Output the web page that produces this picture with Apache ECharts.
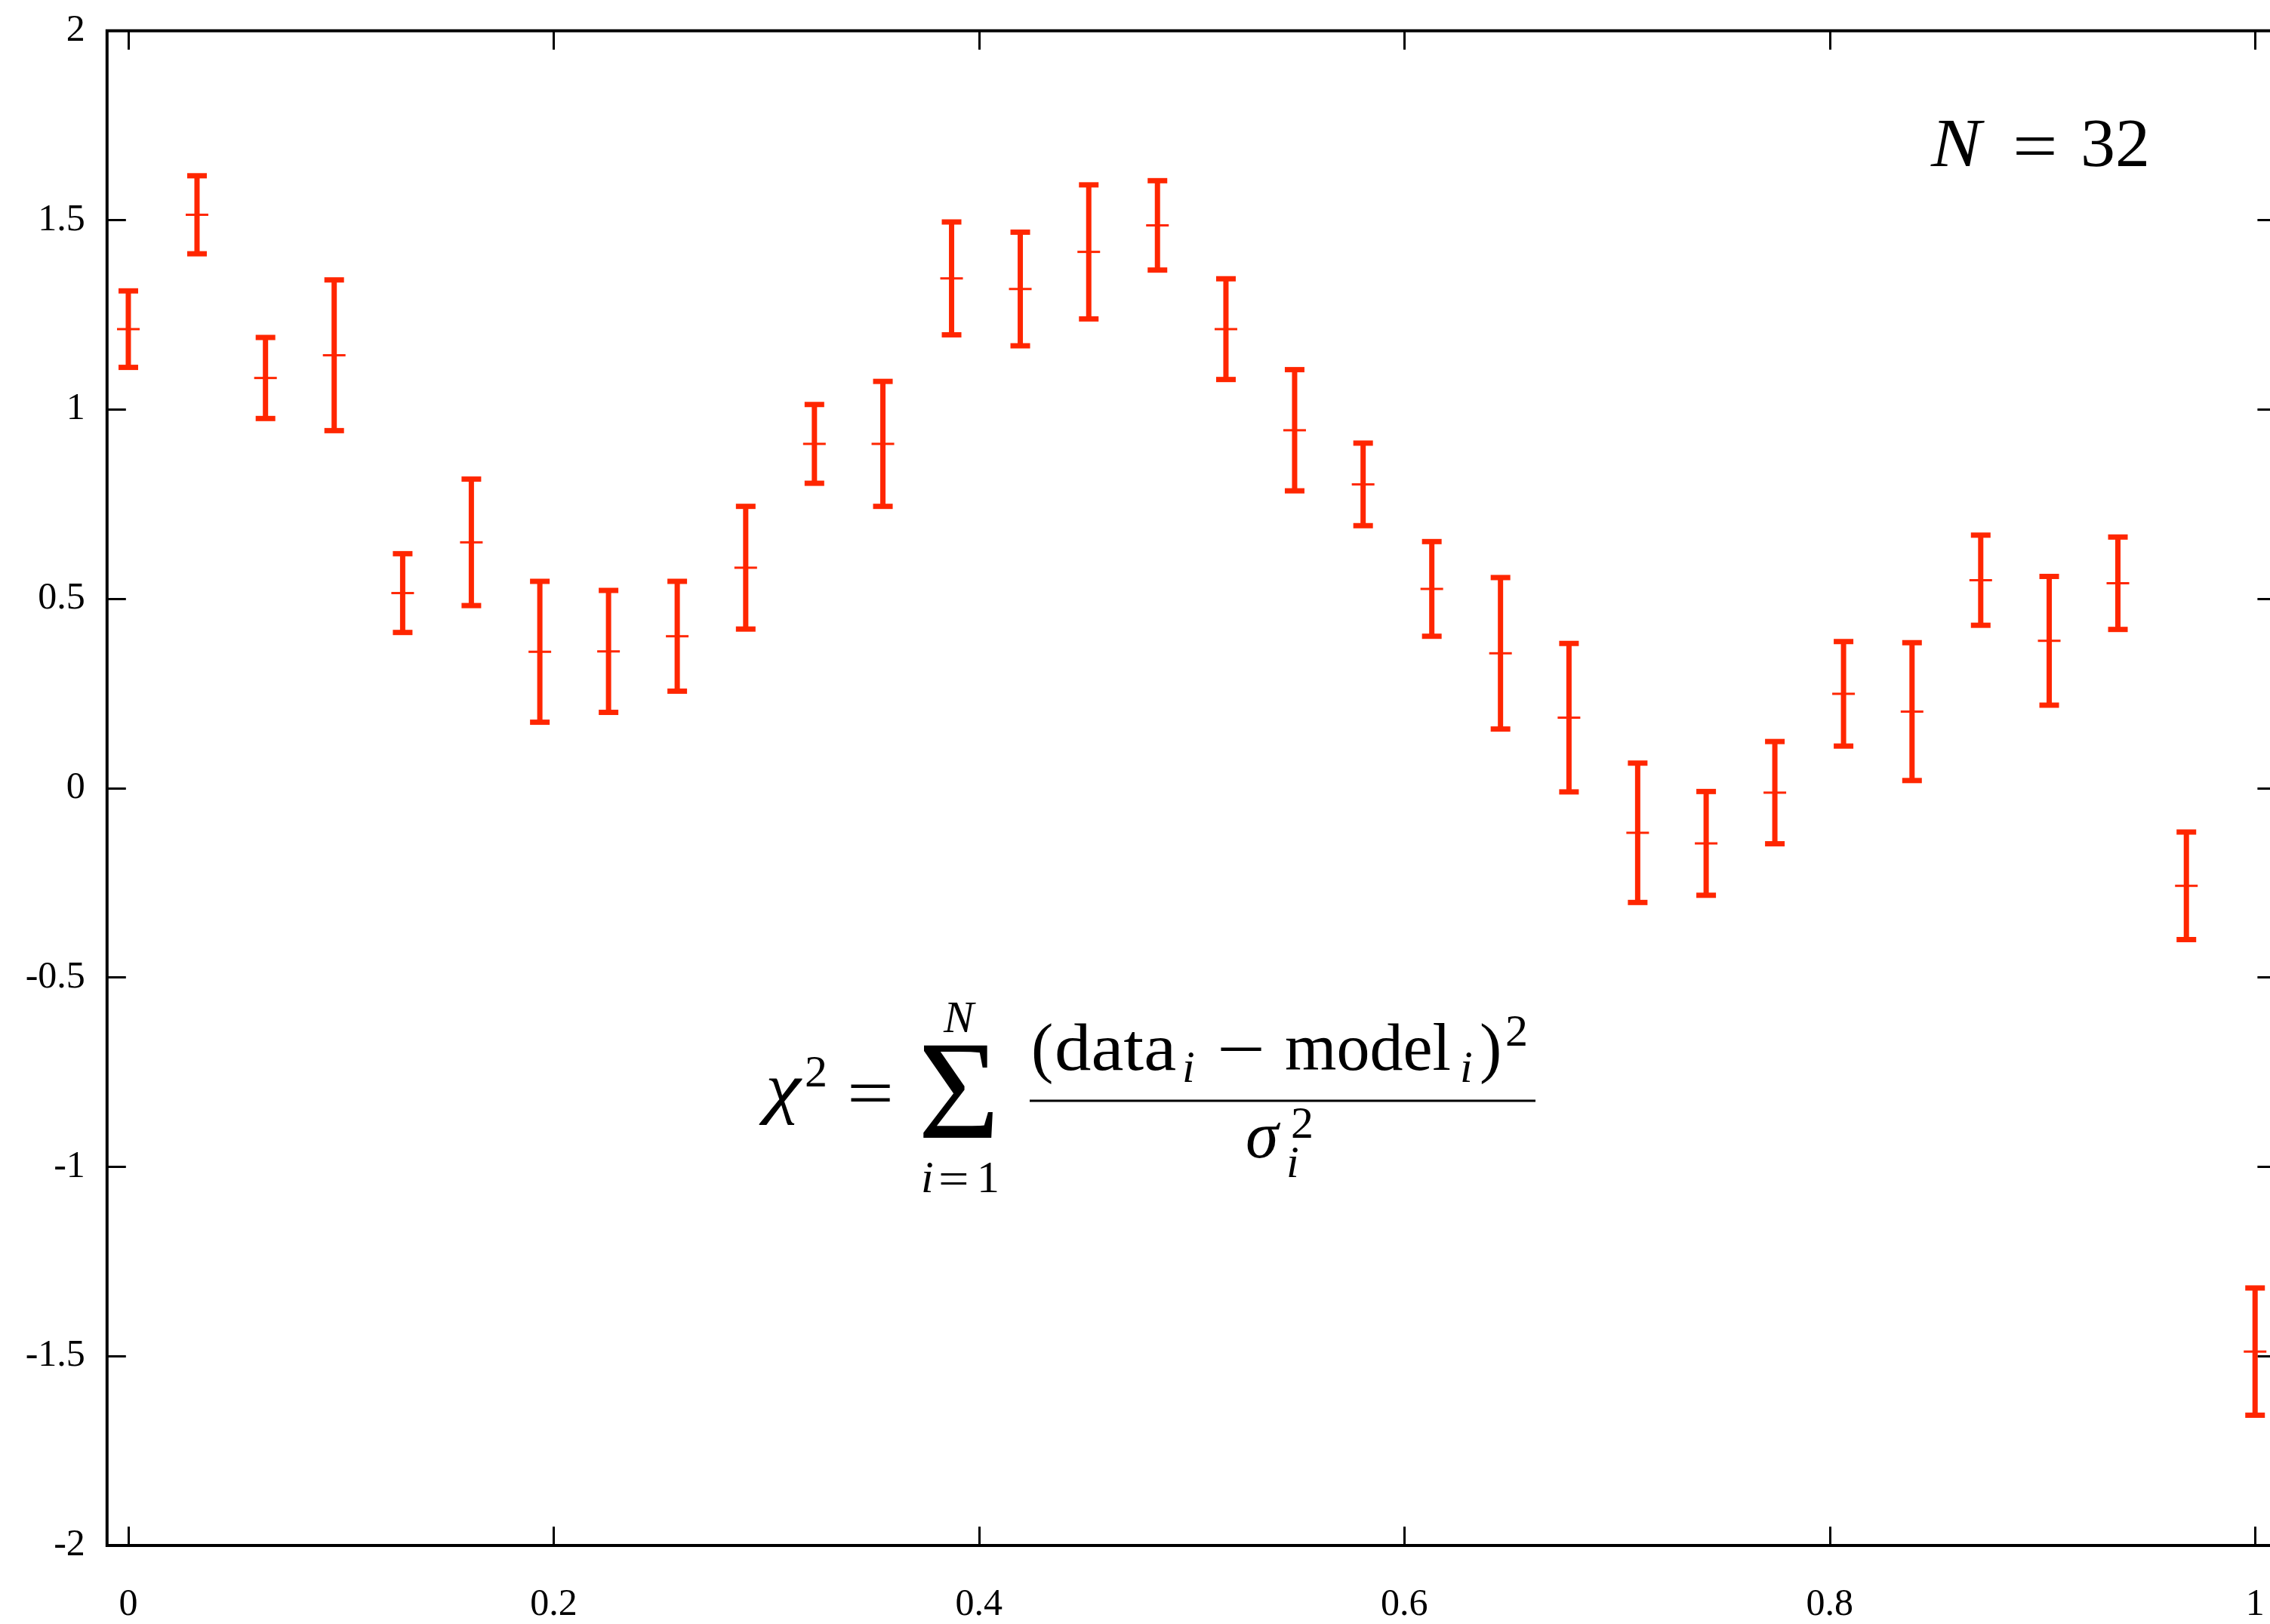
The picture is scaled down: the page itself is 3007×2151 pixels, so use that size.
<!DOCTYPE html>
<html>
<head>
<meta charset="utf-8">
<script src="https://cdn.jsdelivr.net/npm/echarts@6/dist/echarts.min.js"></script>
<style>
  html, body { margin: 0; padding: 0; overflow: hidden; background: #fff; }
  #chart { width: 3030px; height: 2151px; }
</style>
</head>
<body>
<div id="chart"></div>
<script>
// Measurements: sample positions, measured values and their 1-sigma errors
const xValues = [0, 0.0323, 0.0645, 0.0968, 0.1290, 0.1613, 0.1935, 0.2258,
  0.2581, 0.2903, 0.3226, 0.3548, 0.3871, 0.4194, 0.4516, 0.4839,
  0.5161, 0.5484, 0.5806, 0.6129, 0.6452, 0.6774, 0.7097, 0.7419,
  0.7742, 0.8065, 0.8387, 0.8710, 0.9032, 0.9355, 0.9677, 1];
const yValues = [1.212, 1.514, 1.083, 1.143, 0.515, 0.649, 0.360, 0.361,
  0.401, 0.582, 0.909, 0.909, 1.346, 1.318, 1.416, 1.486,
  1.212, 0.945, 0.802, 0.526, 0.356, 0.186, -0.118, -0.146,
  -0.012, 0.249, 0.202, 0.549, 0.389, 0.541, -0.258, -1.488];
const yErrors = [0.101, 0.103, 0.107, 0.199, 0.104, 0.167, 0.186, 0.161,
  0.145, 0.162, 0.104, 0.165, 0.149, 0.150, 0.177, 0.118,
  0.133, 0.160, 0.109, 0.125, 0.200, 0.196, 0.184, 0.137,
  0.135, 0.138, 0.182, 0.119, 0.170, 0.122, 0.142, 0.168];

const xTickValues = [0, 0.2, 0.4, 0.6, 0.8, 1];
const yTickValues = [-2, -1.5, -1, -0.5, 0, 0.5, 1, 1.5, 2];

const RED = '#ff2600';
const SERIF = '"Liberation Serif", "Times New Roman", serif';

// Error bar glyph: vertical bar with end caps and a short centre mark
function renderErrorBar(params, api) {
  const x = api.value(0), y = api.value(1), e = api.value(2);
  const c = api.coord([x, y]);
  const top = api.coord([x, y + e]);
  const bot = api.coord([x, y - e]);
  const cap = 13, mid = 15;
  return {
    type: 'group',
    children: [
      { type: 'line', shape: { x1: c[0], y1: top[1], x2: c[0], y2: bot[1] },
        style: { stroke: RED, lineWidth: 7 } },
      { type: 'line', shape: { x1: c[0] - cap, y1: top[1], x2: c[0] + cap, y2: top[1] },
        style: { stroke: RED, lineWidth: 7 } },
      { type: 'line', shape: { x1: c[0] - cap, y1: bot[1], x2: c[0] + cap, y2: bot[1] },
        style: { stroke: RED, lineWidth: 7 } },
      { type: 'line', shape: { x1: c[0] - mid, y1: c[1], x2: c[0] + mid, y2: c[1] },
        style: { stroke: RED, lineWidth: 3 } }
    ]
  };
}

// Text placed by its left edge and baseline, optionally stretched horizontally
function txt(str, left, baseline, size, italic, sx) {
  const font = (italic ? 'italic ' : '') + size + 'px ' + SERIF;
  return {
    type: 'text',
    x: left,
    y: baseline - 0.32 * size,
    scaleX: sx || 1,
    silent: true,
    style: {
      text: str, font: font, fill: '#000',
      align: 'left', verticalAlign: 'middle',
      textAlign: 'left', textVerticalAlign: 'middle'
    }
  };
}

const formula = [
  txt('χ', 1014, 1476, 92, true, 1.15),
  txt('2', 1066, 1442, 60, false),
  txt('=', 1122, 1482, 88, false, 1.25),
  txt('Σ', 1216, 1518, 186, false),
  txt('N', 1250, 1370, 60, true),
  txt('i', 1220, 1582, 60, true),
  txt('=', 1243, 1584, 60, false, 1.2),
  txt('1', 1294, 1582, 60, false),
  txt('(', 1366, 1422, 88, false),
  txt('data', 1397, 1422, 88, false, 1.1),
  txt('i', 1566, 1436, 60, true),
  txt('−', 1612, 1424, 88, false, 1.3),
  txt('model', 1702, 1422, 88, false),
  txt('i', 1934, 1436, 60, true),
  txt(')', 1960, 1422, 88, false),
  txt('2', 1994, 1388, 60, false),
  { type: 'line', silent: true,
    shape: { x1: 1364, y1: 1458, x2: 2034, y2: 1458 },
    style: { stroke: '#000', lineWidth: 3 } },
  txt('σ', 1650, 1538, 88, true),
  txt('2', 1710, 1510, 60, false),
  txt('i', 1704, 1562, 60, true),
  txt('N', 2558, 225, 92, true, 1.08),
  txt('=', 2666, 229, 92, false, 1.15),
  txt('32', 2756, 225, 92, false)
];

const tickStyle = { show: true, inside: true, length: 25, lineStyle: { color: '#000', width: 3 } };
const labelStyle = { color: '#000', fontFamily: SERIF, fontSize: 50 };
const noLine = { show: false, onZero: false };

const chart = echarts.init(document.getElementById('chart'), null, { renderer: 'canvas' });
chart.setOption({
  backgroundColor: '#fff',
  animation: false,
  grid: {
    left: 141.8, top: 40.7, width: 2873.6, height: 2008.3,
    show: true, borderColor: '#000', borderWidth: 4, backgroundColor: 'transparent'
  },
  xAxis: [
    {
      type: 'value', min: -0.01, max: 1.01, position: 'bottom',
      axisLine: noLine, splitLine: { show: false },
      axisTick: Object.assign({ customValues: xTickValues }, tickStyle),
      axisLabel: Object.assign({ customValues: xTickValues, margin: 54 }, labelStyle)
    },
    {
      type: 'value', min: -0.01, max: 1.01, position: 'top',
      axisLine: noLine, splitLine: { show: false },
      axisTick: Object.assign({ customValues: xTickValues }, tickStyle),
      axisLabel: { show: false }
    }
  ],
  yAxis: [
    {
      type: 'value', min: -2, max: 2, position: 'left',
      axisLine: noLine, splitLine: { show: false },
      axisTick: Object.assign({ customValues: yTickValues }, tickStyle),
      axisLabel: Object.assign({ customValues: yTickValues, margin: 29 }, labelStyle)
    },
    {
      type: 'value', min: -2, max: 2, position: 'right',
      axisLine: noLine, splitLine: { show: false },
      axisTick: Object.assign({ customValues: yTickValues }, tickStyle),
      axisLabel: { show: false }
    }
  ],
  series: [{
    type: 'custom',
    clip: false,
    renderItem: renderErrorBar,
    encode: { x: 0, y: 1 },
    data: xValues.map((x, i) => [x, yValues[i], yErrors[i]])
  }],
  graphic: { elements: formula }
});
</script>
</body>
</html>
